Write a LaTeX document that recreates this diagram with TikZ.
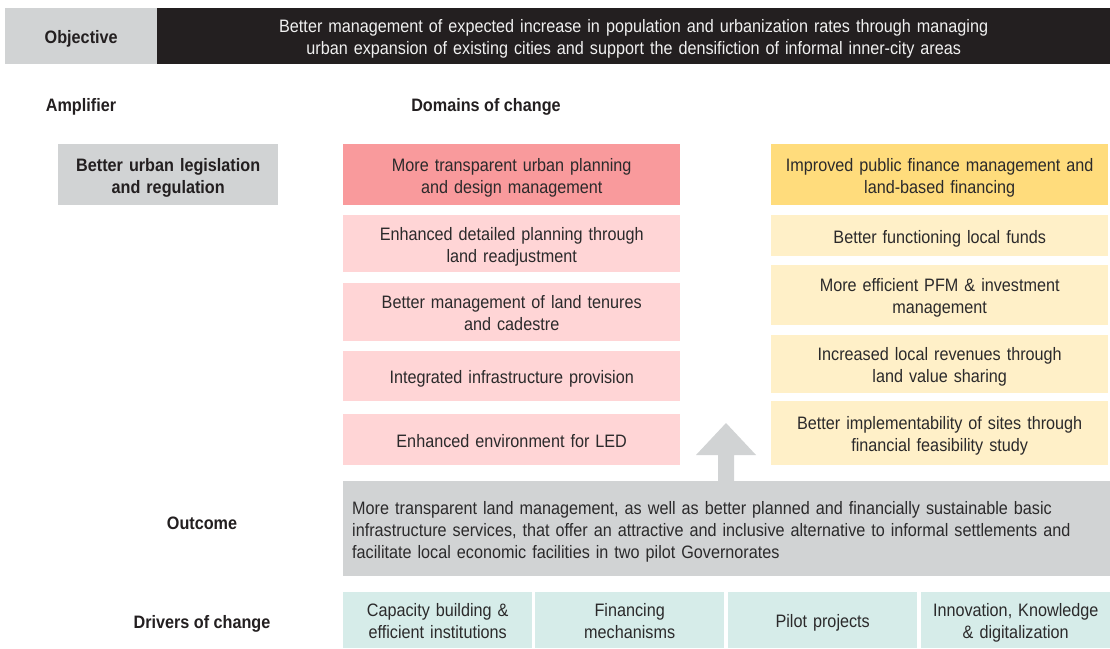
\documentclass[tikz,border=0pt]{standalone}
\usepackage{fontspec}
\setmainfont{Liberation Sans}[FakeStretch=0.90]
\usetikzlibrary{arrows.meta,positioning,calc}

\definecolor{panelgrey}{HTML}{D1D3D4}
\definecolor{panelblack}{HTML}{231F20}
\definecolor{textdark}{HTML}{2B2A2B}
\definecolor{pinkdark}{HTML}{F99A9C}
\definecolor{pinklight}{HTML}{FFD5D6}
\definecolor{yellowdark}{HTML}{FFDC7C}
\definecolor{yellowlight}{HTML}{FFF0C8}
\definecolor{driverteal}{HTML}{D6ECE9}

% struts so that every line sits the same way in its box
\newcommand{\topstrut}{\rule[-4pt]{0pt}{23pt}}
\newcommand{\botstrut}{\rule[-4pt]{0pt}{0pt}}

\begin{document}
\begin{tikzpicture}[x=1pt,y=-1pt,
  every node/.style={inner sep=0pt,text=textdark,font=\fontsize{18}{22}\selectfont,
    execute at begin node=\topstrut,execute at end node=\botstrut},
  rowtitle/.style={font=\fontsize{18}{22}\selectfont\bfseries,text=panelblack},
  greybox/.style={fill=panelgrey,anchor=north west,align=center},
  pinkbox/.style={fill=pinklight,anchor=north west,minimum width=337pt,text width=325pt,align=center},
  yellowbox/.style={fill=yellowlight,anchor=north west,minimum width=337pt,text width=325pt,align=center},
  driverbox/.style={fill=driverteal,anchor=north west,minimum width=189pt,minimum height=56pt,text width=182pt,align=center}]
  \useasboundingbox (0,0) rectangle (1110,648);

  % objective bar
  \node[greybox,rowtitle,minimum width=152pt,minimum height=56pt] (objlabel) at (5,8) {Objective};
  \node[fill=panelblack,text=white!94!black,anchor=north west,minimum width=953pt,minimum height=56pt,text width=940pt,align=center] (objective) at (157,8)
    {Better management of expected increase in population and urbanization rates through managing\\
     urban expansion of existing cities and support the densifiction of informal inner-city areas};

  % column titles
  \node[rowtitle] (amplifier) at (81,104) {Amplifier};
  \node[rowtitle] (domains) at (486,104) {Domains of change};

  \node[greybox,rowtitle,minimum width=220pt,minimum height=61pt,text width=210pt] (legislation) at (58,144) {Better urban legislation\\and regulation};

  % planning domain
  \node[pinkbox,fill=pinkdark,minimum height=61pt] (planning) at (343,144) {More transparent urban planning\\and design management};
  \node[pinkbox,minimum height=57pt] (readjust) at (343,215) {Enhanced detailed planning through\\land readjustment};
  \node[pinkbox,minimum height=58pt] (tenures) at (343,283) {Better management of land tenures\\and cadestre};
  \node[pinkbox,minimum height=50pt] (infra) at (343,351) {Integrated infrastructure provision};
  \node[pinkbox,minimum height=51pt] (led) at (343,414) {Enhanced environment for LED};

  % finance domain
  \node[yellowbox,fill=yellowdark,minimum height=61pt] (finance) at (771,144) {Improved public finance management and\\land-based financing};
  \node[yellowbox,minimum height=41pt] (funds) at (771,215) {Better functioning local funds};
  \node[yellowbox,minimum height=60pt] (pfm) at (771,265) {More efficient PFM \& investment\\management};
  \node[yellowbox,minimum height=58pt] (revenues) at (771,335) {Increased local revenues through\\land value sharing};
  \node[yellowbox,minimum height=64pt] (feasibility) at (771,401) {Better implementability of sites through\\financial feasibility study};

  % outcome
  \node[rowtitle] (outlabel) at (202,522) {Outcome};
  \node[fill=panelgrey,anchor=north west,minimum height=95pt,text width=750pt,inner xsep=9pt,align=left] (outcome) at (343,481)
    {More transparent land management, as well as better planned and financially sustainable basic\\
     infrastructure services, that offer an attractive and inclusive alternative to informal settlements and\\
     facilitate local economic facilities in two pilot Governorates};

  % block arrow from outcome up to the domains
  \coordinate (tip) at (726,423);
  \fill[panelgrey] (outcome.north -| tip) ++(-8,0) -- ++(0,-26) -- ++(-22,0) -- (tip)
    -- ++(30,32) -- ++(-22,0) -- ++(0,26) -- cycle;

  % drivers
  \node[rowtitle] (drvlabel) at (202,621) {Drivers of change};
  \node[driverbox] (capacity) at (343,592) {Capacity building \&\\efficient institutions};
  \node[driverbox] (financing) at (535,592) {Financing\\mechanisms};
  \node[driverbox] (pilots) at (728,592) {Pilot projects};
  \node[driverbox] (innovation) at (921,592) {Innovation, Knowledge\\\& digitalization};
\end{tikzpicture}
\end{document}
